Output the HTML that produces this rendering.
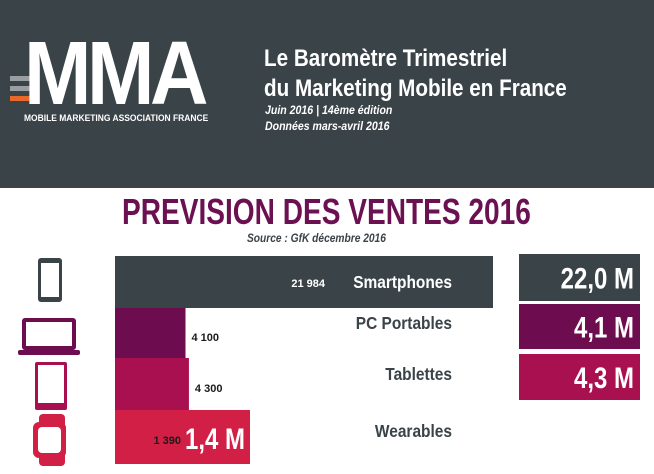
<!DOCTYPE html>
<html><head><meta charset="utf-8"><style>
body{margin:0;width:654px;height:474px;overflow:hidden;background:#fff;font-family:"Liberation Sans",sans-serif;position:relative}
.a{position:absolute;white-space:nowrap}
.hdr{left:0;top:0;width:654px;height:188px;background:#3a4348}
.sq{display:inline-block;transform-origin:0 0}
</style></head><body>
<div class="a hdr"></div>
<div class="a" style="left:10px;top:30px">
  <div class="a" style="left:0;top:46px;width:28px;height:5px;background:#9a9ea0"></div>
  <div class="a" style="left:0;top:56px;width:28px;height:5px;background:#9a9ea0"></div>
  <div class="a" style="left:0;top:66px;width:28px;height:5px;background:#e8692a"></div>
  <div class="a" style="left:14px;top:2px;color:#fff;font-weight:bold;font-size:90px;letter-spacing:-5px;line-height:84px"><span class="sq" style="transform:scaleX(0.9)">MMA</span></div>
  <div class="a" style="left:14px;top:83px;color:#fff;font-weight:bold;font-size:9px"><span class="sq" style="transform:scaleX(0.94)">MOBILE MARKETING ASSOCIATION FRANCE</span></div>
</div>
<div class="a" style="left:264px;top:44px;color:#fff;font-weight:bold;font-size:24px;line-height:30px"><span class="sq" style="transform:scaleX(0.86)">Le Baromètre Trimestriel<br>du Marketing Mobile en France</span></div>
<div class="a" style="left:265px;top:102px;color:#fff;font-weight:bold;font-style:italic;font-size:12px;line-height:16px"><span class="sq" style="transform:scaleX(0.88)">Juin 2016 | 14ème édition<br>Données mars-avril 2016</span></div>
<div class="a" style="left:122px;top:193px;color:#6b1152;font-weight:bold;font-size:36px;line-height:38px"><span class="sq" style="transform:scaleX(0.78)">PREVISION DES VENTES 2016</span></div>
<div class="a" style="left:247px;top:231px;color:#3a4348;font-weight:bold;font-style:italic;font-size:12px"><span class="sq" style="transform:scaleX(0.85)">Source : GfK décembre 2016</span></div>

<svg class="a" style="left:0;top:0" width="654" height="474" id="chart">
  <g><rect x="38" y="258" width="24" height="44" rx="3" fill="#3a4348"/><rect x="41" y="263" width="18" height="34" fill="#fff"/></g>
  <g><rect x="22" y="318" width="54" height="32" rx="3" fill="#6d0c4e"/><rect x="26" y="322" width="46" height="24" fill="#fff"/><rect x="18" y="350" width="62" height="5" rx="2" fill="#6d0c4e"/></g>
  <g><rect x="35" y="362" width="32" height="48" rx="2" fill="#a8104f"/><rect x="38" y="365" width="26" height="38" fill="#fff"/></g>
  <g><rect x="39" y="414" width="26" height="52" rx="4" fill="#d21f45"/><rect x="33" y="422" width="33" height="36" rx="6" fill="#d21f45"/><rect x="38" y="427" width="23" height="26" rx="4" fill="#fff"/></g>
</svg>
<script>
const categories=["Smartphones","PC Portables","Tablettes","Wearables"];
const values=[21984,4100,4300,1390];
const valueLabels=["21 984","4 100","4 300","1 390"];
const totals=["22,0 M","4,1 M","4,3 M","1,4 M"];
const colors=["#3a4348","#6d0c4e","#a8104f","#d21f45"];
const svg=document.getElementById('chart');const NS="http://www.w3.org/2000/svg";
const x0=115,xw=378,maxV=21984;
const x=v=>x0+v/maxV*xw;
const rowY=[256,308,358,410],rowH=[52,50,52,54];
const boxY=[254,304,354],boxH=[47,45,46];
function t(px,py,s,sz,fill,anchor,name){const e=document.createElementNS(NS,'text');e.setAttribute('x',px);e.setAttribute('y',py);e.setAttribute('font-size',sz);e.setAttribute('font-weight','bold');e.setAttribute('fill',fill);e.setAttribute('text-anchor',anchor);e.setAttribute('font-family','Liberation Sans, sans-serif');e.textContent=s;


svg.appendChild(e);return e;}
values.forEach((v,i)=>{
  let end=x(v);const last=i===3;if(last)end=Math.max(end,250);
  const r=document.createElementNS(NS,'rect');
  r.setAttribute('x',x0);r.setAttribute('y',rowY[i]);r.setAttribute('width',end-x0);r.setAttribute('height',rowH[i]);r.setAttribute('fill',colors[i]);
  
  
  svg.appendChild(r);
  const cy=rowY[i]+rowH[i]/2;
  t(452,cy+(i===0?6:i===3?0:-4),categories[i],18,i===0?'#fff':'#3a4348','end','category-label').setAttribute('transform','translate(452 0) scale(0.86 1) translate(-452 0)');
  if(i===0)t(325,cy+5,valueLabels[i],11,'#fff','end','value-label');
  else if(last){t(181,cy+7,valueLabels[i],11,'#1a1a1a','end','value-label');t(185,cy+12,totals[i],30,'#fff','start','total-label').setAttribute('transform','translate(185 0) scale(0.8 1) translate(-185 0)');}
  else t(end+6,cy+8,valueLabels[i],11,'#1a1a1a','start','value-label');
  if(!last){const b=document.createElementNS(NS,'rect');b.setAttribute('x',519);b.setAttribute('y',boxY[i]);b.setAttribute('width',121);b.setAttribute('height',boxH[i]);b.setAttribute('fill',colors[i]);
  
  
  svg.appendChild(b);
  t(634,boxY[i]+boxH[i]/2+11,totals[i],30,'#fff','end','total-label').setAttribute('transform','translate(634 0) scale(0.8 1) translate(-634 0)');}
});
</script>
</body></html>
